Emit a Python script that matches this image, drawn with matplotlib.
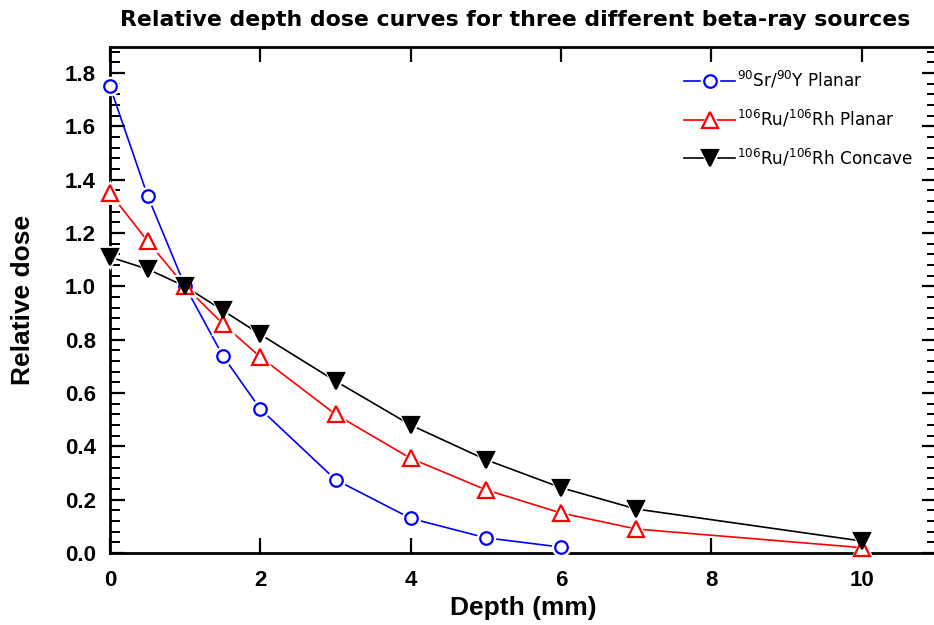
# -*- coding: utf-8 -*-

import matplotlib
matplotlib.use('Agg')
import matplotlib.pyplot as plt
from matplotlib.legend_handler import HandlerTuple
from matplotlib.ticker import MultipleLocator

# data
depth_sr = [0, 0.5, 1, 1.5, 2, 3, 4, 5, 6]
dose_sr = [1.75, 1.34, 1.0, 0.74, 0.54, 0.275, 0.13, 0.057, 0.022]

depth_ru = [0, 0.5, 1, 1.5, 2, 3, 4, 5, 6, 7, 10]
dose_ru_planar = [1.35, 1.17, 1.0, 0.86, 0.735, 0.52, 0.355, 0.237, 0.15, 0.09, 0.02]
dose_ru_concave = [1.11, 1.065, 1.0, 0.91, 0.82, 0.645, 0.48, 0.35, 0.245, 0.165, 0.045]

labels = [r'$^{90}$Sr/$^{90}$Y Planar',
          r'$^{106}$Ru/$^{106}$Rh Planar',
          r'$^{106}$Ru/$^{106}$Rh Concave']

plt.rcParams['font.family'] = ['Liberation Sans', 'DejaVu Sans']
plt.rcParams['mathtext.fontset'] = 'custom'
plt.rcParams['mathtext.rm'] = 'DejaVu Sans'

fig = plt.figure(figsize=(9.34, 6.25), dpi=100)
ax = fig.add_axes([110 / 934, 1 - 553 / 625, 827 / 934, 506.5 / 625])

series = [
    (depth_sr, dose_sr, 'blue', 'o', 'white', 9),
    (depth_ru, dose_ru_planar, 'red', '^', 'white', 11),
    (depth_ru, dose_ru_concave, 'black', 'v', 'black', 11),
]

handles = []
for x, y, col, mk, face, ms in series:
    ln, = ax.plot(x, y, color=col, lw=1.2, zorder=3, clip_on=False)
    halo, = ax.plot(x, y, ls='none', marker=mk, ms=ms + 3, mfc='white',
                    mec='white', mew=2, zorder=4, clip_on=False)
    mark, = ax.plot(x, y, ls='none', marker=mk, ms=ms, mfc=face, mec=col,
                    mew=1.6, zorder=5, clip_on=False)
    handles.append((ln, halo, mark))

ax.set_xlim(0, 11)
ax.set_ylim(0, 1.9)
ax.xaxis.set_major_locator(MultipleLocator(2))
ax.yaxis.set_major_locator(MultipleLocator(0.2))
ax.yaxis.set_minor_locator(MultipleLocator(0.04))
ax.yaxis.set_major_formatter(matplotlib.ticker.FormatStrFormatter('%.1f'))

for sp in ax.spines.values():
    sp.set_linewidth(2)
ax.tick_params(which='major', direction='in', length=11, width=1.6,
               top=True, right=True, labelsize=16, pad=10)
ax.tick_params(which='minor', direction='in', length=7, width=1.4, right=True)
ax.tick_params(axis='x', pad=12)
for t in ax.get_xticklabels() + ax.get_yticklabels():
    t.set_fontweight('bold')

ax.set_xlabel('Depth (mm)', fontsize=19, fontweight='bold', labelpad=4)
ax.set_ylabel('Relative dose', fontsize=19, fontweight='bold', labelpad=22)

fig.text(515 / 934, 1 - 20 / 625,
         'Relative depth dose curves for three different beta-ray sources',
         family='DejaVu Sans', fontsize=15.8, fontweight='bold',
         ha='center', va='center')

ax.legend(handles, labels, handler_map={tuple: HandlerTuple(ndivide=1)},
          loc='upper left', bbox_to_anchor=(676 / 934, 1 - 61 / 625),
          bbox_transform=fig.transFigure, frameon=False, numpoints=1,
          handlelength=3.0, handletextpad=0.1, labelspacing=1.05,
          borderpad=0, prop={'family': 'DejaVu Sans', 'size': 12.2})

fig.savefig('out.png', dpi=100)
